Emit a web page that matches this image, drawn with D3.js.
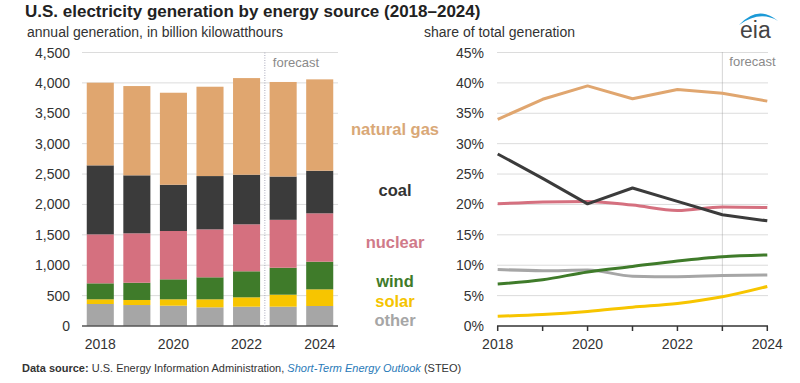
<!DOCTYPE html>
<html>
<head>
<meta charset="utf-8">
<script src="https://cdn.jsdelivr.net/npm/d3@7"></script>
<style>
  html, body { margin: 0; padding: 0; background: #fff; }
  svg { display: block; font-family: "Liberation Sans", Arial, sans-serif; }
</style>
</head>
<body>
<svg id="chart" width="800" height="383"></svg>
<script>
// ---------- DATA ----------
const years = [2018, 2019, 2020, 2021, 2022, 2023, 2024];
const sources = ["other", "solar", "wind", "nuclear", "coal", "gas"];
const sourceLabels = ["other", "solar", "wind", "nuclear", "coal", "natural gas"];

// annual generation, billion kWh
const genOther   = [362, 345, 334, 307, 318, 318, 329];
const genSolar   = [77, 83, 105, 132, 154, 197, 274];
const genWind    = [263, 284, 329, 362, 428, 444, 455];
const genNuclear = [806, 813, 795, 789, 773, 788, 796];
const genCoal    = [1135, 954, 761, 877, 816, 712, 701];
const genGas     = [1360, 1469, 1514, 1470, 1590, 1556, 1503];

// share of total generation, percent
const shareGas     = [34.0, 37.3, 39.5, 37.4, 38.9, 38.3, 37.0];
const shareCoal    = [28.3, 24.3, 20.1, 22.7, 20.5, 18.3, 17.3];
const shareNuclear = [20.1, 20.4, 20.5, 19.9, 19.0, 19.6, 19.5];
const shareWind    = [6.9, 7.6, 8.9, 9.8, 10.7, 11.4, 11.7];
const shareOther   = [9.3, 9.1, 9.2, 8.2, 8.1, 8.3, 8.4];
const shareSolar   = [1.6, 1.9, 2.4, 3.1, 3.7, 4.8, 6.5];

const leftTicks = [0, 500, 1000, 1500, 2000, 2500, 3000, 3500, 4000, 4500];
const rightTicks = [0, 5, 10, 15, 20, 25, 30, 35, 40, 45];
const yearLabels = [2018, 2020, 2022, 2024];
const forecastStart = 2023;

// ---------- STYLE ----------
const colors = {
  gas: "#e0a66f", coal: "#3b3b3b", nuclear: "#d5707f",
  wind: "#3f7b2a", solar: "#f7c500", other: "#a6a6a6"
};
const labelColors = {
  gas: "#d9a877", coal: "#333333", nuclear: "#d07a89",
  wind: "#3f7b2a", solar: "#f5c400", other: "#a6a6a6"
};
const textColor = "#333";
const gridColor = "#dcdcdc";

const svg = d3.select("#chart");

// ---------- TITLES ----------
svg.append("text").attr("x", 25).attr("y", 17)
  .attr("font-size", 17).attr("font-weight", "bold").attr("fill", "#222")
  .text("U.S. electricity generation by energy source (2018\u20132024)");
svg.append("text").attr("x", 27).attr("y", 37)
  .attr("font-size", 14).attr("fill", textColor)
  .text("annual generation, in billion kilowatthours");
svg.append("text").attr("x", 424).attr("y", 37)
  .attr("font-size", 14).attr("fill", textColor)
  .text("share of total generation");

// eia logo
svg.append("text").attr("x", 740).attr("y", 38)
  .attr("font-size", 23).attr("fill", "#444").text("eia");
svg.append("path")
  .attr("d", "M739,25 Q758,4 778,21 Q760,10 739,25 Z")
  .attr("fill", "#1b9ad7");

// ---------- LEFT: stacked bars ----------
const xL = d3.scaleBand().domain(years).range([82, 338])
  .paddingInner(0.26).paddingOuter(0.13);
const yL = d3.scaleLinear().domain([0, 4500]).range([326, 52.5]);

const gL = svg.append("g");
gL.selectAll("line.grid").data(leftTicks.filter(d => d > 0)).join("line")
  .attr("x1", 82).attr("x2", 338)
  .attr("y1", d => yL(d)).attr("y2", d => yL(d))
  .attr("stroke", gridColor).attr("stroke-width", 1);

gL.selectAll("text.ytick").data(leftTicks).join("text")
  .attr("x", 70).attr("y", d => yL(d) + 5)
  .attr("text-anchor", "end").attr("font-size", 14).attr("fill", textColor)
  .text(d => d3.format(",")(d));

const genTable = years.map((y, i) => ({
  year: y, other: genOther[i], solar: genSolar[i], wind: genWind[i],
  nuclear: genNuclear[i], coal: genCoal[i], gas: genGas[i]
}));
const stacked = d3.stack().keys(sources)(genTable);

gL.selectAll("g.layer").data(stacked).join("g")
  .attr("fill", d => colors[d.key])
  .selectAll("rect").data(d => d).join("rect")
  .attr("x", d => xL(d.data.year))
  .attr("width", xL.bandwidth())
  .attr("y", d => yL(d[1]))
  .attr("height", d => yL(d[0]) - yL(d[1]));

// axis baseline
gL.append("line").attr("x1", 82).attr("x2", 338)
  .attr("y1", yL(0)).attr("y2", yL(0))
  .attr("stroke", "#555").attr("stroke-width", 1.5);

gL.selectAll("text.xtick").data(yearLabels).join("text")
  .attr("x", d => xL(d) + xL.bandwidth() / 2).attr("y", 349)
  .attr("text-anchor", "middle").attr("font-size", 14).attr("fill", textColor)
  .text(d => d);

// forecast divider (left)
const fxL = (xL(forecastStart - 1) + xL.bandwidth() + xL(forecastStart)) / 2;
gL.append("line").attr("x1", fxL).attr("x2", fxL)
  .attr("y1", yL(4500)).attr("y2", yL(0))
  .attr("stroke", "#aab").attr("stroke-width", 1).attr("stroke-dasharray", "1,1.5");
gL.append("text").attr("x", fxL + 8).attr("y", 67)
  .attr("font-size", 13).attr("fill", "#8a8a8a").text("forecast");

// labels
const labelY = { gas: 129, coal: 190, nuclear: 242, wind: 281, solar: 301, other: 320 };
svg.selectAll("text.legend").data(sources).join("text")
  .attr("x", 395).attr("y", d => labelY[d] + 6)
  .attr("text-anchor", "middle").attr("font-size", 16.5).attr("font-weight", "bold")
  .attr("fill", d => labelColors[d])
  .text((d, i) => sourceLabels[i]);

// ---------- RIGHT: lines ----------
const xR = d3.scaleLinear().domain([2018, 2024]).range([497.7, 767.3]);
const yR = d3.scaleLinear().domain([0, 45]).range([326, 52.5]);
const gR = svg.append("g");

gR.selectAll("line.grid").data(rightTicks.filter(d => d > 0)).join("line")
  .attr("x1", 497).attr("x2", 768)
  .attr("y1", d => yR(d)).attr("y2", d => yR(d))
  .attr("stroke", gridColor).attr("stroke-width", 1);

gR.selectAll("text.ytick").data(rightTicks).join("text")
  .attr("x", 484).attr("y", d => yR(d) + 5)
  .attr("text-anchor", "end").attr("font-size", 14).attr("fill", textColor)
  .text(d => d + "%");

// forecast divider (right)
gR.append("line").attr("x1", xR(forecastStart)).attr("x2", xR(forecastStart))
  .attr("y1", yR(45)).attr("y2", yR(0))
  .attr("stroke", "#999").attr("stroke-width", 0.8).attr("stroke-dasharray", "1,1");
gR.append("text").attr("x", xR(forecastStart) + 7).attr("y", 66)
  .attr("font-size", 13).attr("fill", "#8a8a8a").text("forecast");

const series = [
  { key: "other", values: shareOther, curve: d3.curveMonotoneX },
  { key: "wind", values: shareWind, curve: d3.curveMonotoneX },
  { key: "solar", values: shareSolar, curve: d3.curveMonotoneX },
  { key: "nuclear", values: shareNuclear, curve: d3.curveMonotoneX },
  { key: "gas", values: shareGas, curve: d3.curveLinear },
  { key: "coal", values: shareCoal, curve: d3.curveLinear }
];
series.forEach(s => {
  const line = d3.line().x((d, i) => xR(years[i])).y(d => yR(d)).curve(s.curve);
  gR.append("path").attr("d", line(s.values))
    .attr("fill", "none").attr("stroke", colors[s.key])
    .attr("stroke-width", 3).attr("stroke-linejoin", "round").attr("stroke-linecap", "butt");
});

// x axis
gR.append("line").attr("x1", 497).attr("x2", 768)
  .attr("y1", yR(0)).attr("y2", yR(0))
  .attr("stroke", "#333").attr("stroke-width", 1.5);
gR.selectAll("line.xt").data(years).join("line")
  .attr("x1", d => xR(d)).attr("x2", d => xR(d))
  .attr("y1", yR(0)).attr("y2", yR(0) + 5)
  .attr("stroke", "#333").attr("stroke-width", 1.5);
gR.selectAll("text.xtick").data(yearLabels).join("text")
  .attr("x", d => xR(d)).attr("y", 349)
  .attr("text-anchor", "middle").attr("font-size", 14).attr("fill", textColor)
  .text(d => d);

// ---------- FOOTER ----------
const foot = svg.append("text").attr("x", 22).attr("y", 372)
  .attr("font-size", 11).attr("fill", "#333");
foot.append("tspan").attr("font-weight", "bold").text("Data source: ");
foot.append("tspan").text("U.S. Energy Information Administration, ");
foot.append("tspan").attr("font-style", "italic").attr("fill", "#2a7ab8")
  .text("Short-Term Energy Outlook");
foot.append("tspan").text(" (STEO)");
</script>
</body>
</html>
